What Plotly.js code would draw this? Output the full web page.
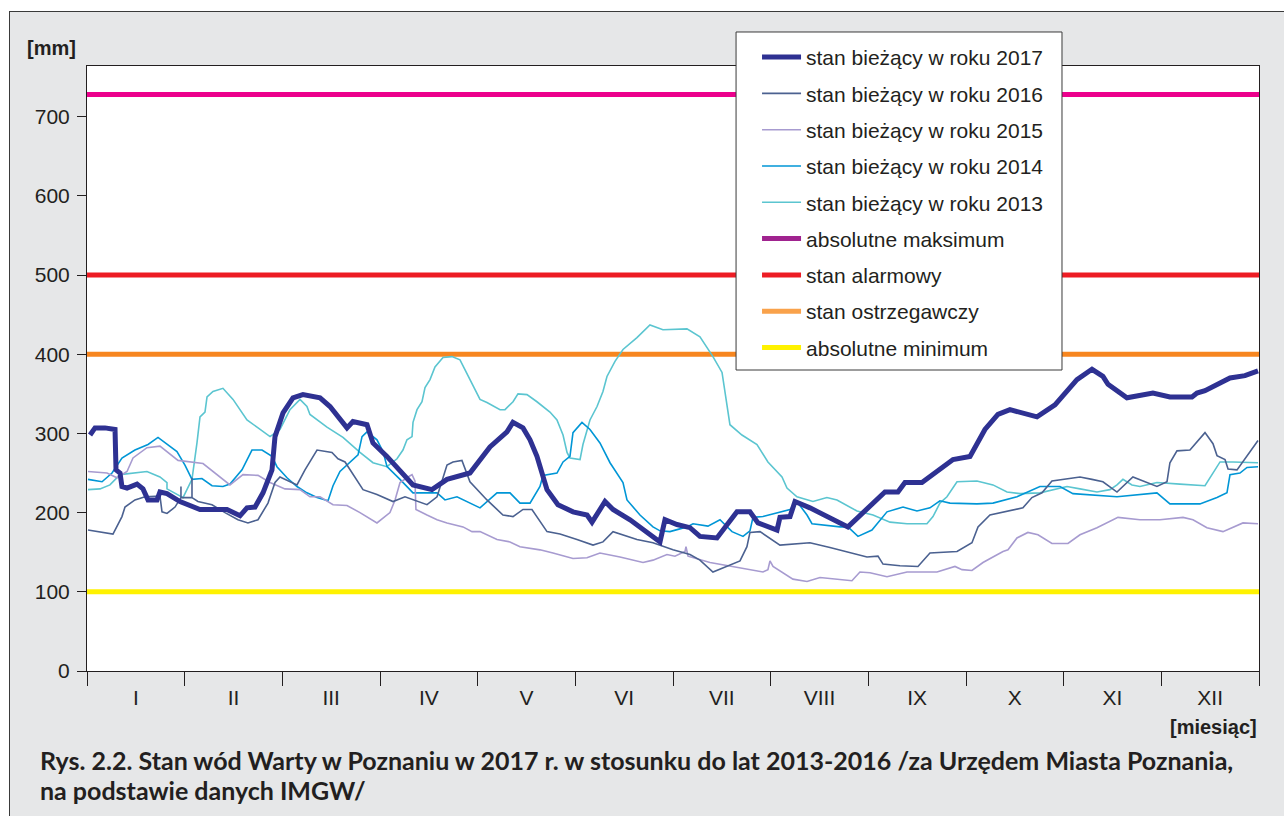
<!DOCTYPE html>
<html>
<head>
<meta charset="utf-8">
<script src="https://cdn.plot.ly/plotly-3.0.1.min.js"></script>
<style>
  html, body { margin: 0; padding: 0; background: #ffffff; }
  #wrap { position: absolute; left: 9px; top: 11px; width: 1275px; height: 805px;
          border-left: 1px solid #3a3a3a; border-top: 1px solid #3a3a3a; background: #e6e7e8; }
  #chart { position: absolute; left: 0; top: 0; width: 1274px; height: 804px; }
</style>
</head>
<body>
<div id="wrap"><div id="chart"></div></div>
<script>
// ---- categories / tick labels ----
const months = ['I','II','III','IV','V','VI','VII','VIII','IX','X','XI','XII'];
const monthEdges = [0,1,2,3,4,5,6,7,8,9,10,11,12];
const monthCenters = [0.5,1.5,2.5,3.5,4.5,5.5,6.5,7.5,8.5,9.5,10.5,11.5];

// ---- reference levels [mm] ----
const levelMax = 728;
const levelAlarm = 500;
const levelWarn = 400;
const levelMin = 100;

// ---- series (x = position in months, y = water level in mm) ----
const x2017 = [0.031,0.082,0.184,0.287,0.297,0.338,0.358,0.410,0.512,0.573,0.625,0.717,0.747,0.819,0.952,1.157,1.433,1.567,1.638,1.720,1.802,1.894,1.925,2.007,2.109,2.211,2.386,2.488,2.662,2.723,2.867,2.928,3.071,3.205,3.338,3.532,3.686,3.921,4.126,4.300,4.361,4.464,4.536,4.607,4.710,4.822,4.976,5.120,5.171,5.304,5.386,5.560,5.734,5.867,5.918,6.041,6.174,6.276,6.450,6.655,6.788,6.870,7.065,7.095,7.198,7.249,7.402,7.791,8.170,8.303,8.375,8.549,8.867,9.041,9.194,9.327,9.450,9.727,9.911,10.136,10.290,10.402,10.454,10.648,10.914,11.088,11.314,11.365,11.447,11.703,11.856,11.990];
const y2017 = [298,307,307,305,254,250,233,231,236,230,216,216,226,224,214,204,204,196,206,207,225,254,296,326,345,349,345,334,307,315,311,288,271,254,235,229,242,250,283,302,314,307,292,271,229,210,201,197,188,214,204,191,175,163,191,185,181,170,168,201,201,187,178,194,195,214,206,182,226,226,238,238,267,271,305,324,330,321,336,368,381,372,362,345,351,346,346,351,354,370,373,379];

const x2016 = [0.010,0.266,0.358,0.389,0.491,0.594,0.747,0.768,0.819,0.901,0.962,0.962,0.962,1.075,1.075,1.075,1.136,1.280,1.413,1.546,1.648,1.751,1.853,1.925,1.976,2.150,2.232,2.355,2.508,2.570,2.642,2.826,2.969,3.133,3.256,3.481,3.584,3.686,3.747,3.839,3.921,4.095,4.259,4.362,4.464,4.556,4.710,4.843,5.017,5.181,5.283,5.386,5.631,5.795,6.000,6.174,6.276,6.409,6.686,6.757,6.788,6.891,7.095,7.402,7.607,7.812,7.986,8.099,8.150,8.324,8.508,8.631,8.908,9.061,9.123,9.245,9.420,9.583,9.675,9.778,9.880,10.167,10.290,10.402,10.546,10.607,10.709,10.955,11.058,11.088,11.160,11.293,11.447,11.529,11.570,11.652,11.683,11.775,11.990];
const y2016 = [178,173,195,207,216,220,221,201,199,207,219,233,219,219,244,219,214,210,200,191,187,191,212,238,245,235,254,279,276,268,264,229,223,214,220,210,220,260,264,266,239,216,197,195,204,204,176,173,166,159,163,176,166,162,153,147,140,125,139,157,175,176,159,162,156,149,144,145,135,133,132,149,151,162,182,197,202,206,219,225,240,245,242,239,226,233,245,233,239,263,278,279,301,287,272,267,255,254,291];

const x2015 = [0.010,0.205,0.307,0.410,0.471,0.614,0.747,0.932,1.188,1.464,1.597,1.751,1.874,2.027,2.181,2.283,2.386,2.519,2.662,2.795,2.969,3.102,3.154,3.205,3.287,3.328,3.358,3.368,3.481,3.584,3.686,3.850,3.942,4.024,4.198,4.331,4.433,4.638,4.771,4.976,5.119,5.252,5.457,5.693,5.795,5.938,6.020,6.123,6.133,6.154,6.379,6.686,6.921,6.972,6.993,7.024,7.228,7.372,7.505,7.832,7.914,8.017,8.191,8.396,8.703,8.887,8.959,9.061,9.174,9.276,9.379,9.430,9.522,9.634,9.737,9.880,10.044,10.167,10.341,10.556,10.781,10.986,11.222,11.324,11.467,11.631,11.836,11.990];
const y2015 = [252,250,244,252,269,282,284,266,262,235,248,247,238,230,229,220,220,210,209,200,187,200,216,238,245,248,240,204,197,191,187,182,176,176,166,163,157,153,149,142,143,149,144,137,140,147,145,151,157,145,137,130,125,128,139,132,116,113,118,114,125,124,119,125,125,132,128,127,137,144,151,153,168,175,172,161,161,172,181,194,191,191,194,191,181,176,187,186];

const x2014 = [0.010,0.154,0.256,0.358,0.491,0.625,0.727,0.819,0.921,1.003,1.075,1.177,1.280,1.392,1.464,1.587,1.648,1.689,1.792,1.894,1.945,2.048,2.150,2.252,2.355,2.468,2.519,2.590,2.775,2.816,2.867,2.969,3.031,3.072,3.205,3.338,3.584,3.665,3.788,4.024,4.198,4.331,4.433,4.536,4.638,4.669,4.812,4.874,4.945,4.976,5.068,5.150,5.252,5.355,5.488,5.529,5.662,5.795,5.867,5.969,6.143,6.205,6.358,6.481,6.604,6.717,6.788,6.819,6.921,7.065,7.198,7.269,7.372,7.423,7.710,7.791,7.894,8.037,8.191,8.355,8.498,8.631,8.733,8.836,9.112,9.276,9.522,9.757,9.962,10.095,10.546,10.955,11.088,11.395,11.570,11.672,11.703,11.805,11.877,11.990];
const y2014 = [242,239,250,269,279,286,295,286,277,260,242,243,234,233,236,254,269,279,279,271,258,244,233,225,219,215,234,252,273,296,302,292,277,258,242,225,225,216,220,206,225,225,212,212,233,247,250,264,271,301,314,305,288,263,238,216,197,182,177,176,182,186,183,191,176,170,177,194,195,200,204,214,197,186,182,182,170,178,201,207,202,206,215,212,211,212,220,233,233,224,220,225,211,211,219,225,248,250,257,258];

const x2013 = [0.010,0.133,0.235,0.338,0.614,0.747,0.819,0.819,0.983,1.075,1.126,1.157,1.208,1.229,1.290,1.392,1.495,1.638,1.741,1.874,1.976,2.078,2.181,2.252,2.283,2.457,2.621,2.795,2.928,3.071,3.174,3.235,3.276,3.328,3.338,3.379,3.430,3.461,3.512,3.563,3.645,3.737,3.819,3.921,4.024,4.095,4.229,4.280,4.362,4.413,4.505,4.607,4.740,4.812,4.874,4.915,4.945,5.048,5.078,5.150,5.222,5.283,5.324,5.406,5.488,5.631,5.764,5.897,6.143,6.276,6.409,6.502,6.583,6.706,6.860,6.972,7.116,7.167,7.269,7.433,7.576,7.679,7.884,8.048,8.222,8.396,8.600,8.662,8.733,8.805,8.908,9.112,9.276,9.420,9.553,9.757,9.911,10.034,10.167,10.341,10.474,10.546,10.607,10.699,10.781,10.955,11.191,11.447,11.601,11.734,11.990];
const y2013 = [229,230,235,248,252,245,238,230,219,242,288,321,327,346,353,357,343,317,308,296,305,330,343,334,324,308,295,276,263,258,268,279,292,296,314,330,340,358,368,384,396,397,393,368,343,339,330,330,340,350,349,340,327,317,298,276,269,267,286,317,334,353,372,391,406,421,437,431,432,422,397,377,311,298,286,264,245,231,220,214,219,216,202,197,188,186,186,195,212,220,239,240,235,226,224,225,229,233,230,226,229,235,242,235,233,238,236,234,264,264,263];

const names = {
  s2017: 'stan bieżący w roku 2017', s2016: 'stan bieżący w roku 2016',
  s2015: 'stan bieżący w roku 2015', s2014: 'stan bieżący w roku 2014',
  s2013: 'stan bieżący w roku 2013', max: 'absolutne maksimum',
  alarm: 'stan alarmowy', warn: 'stan ostrzegawczy', min: 'absolutne minimum'
};

const xSpan = [monthEdges[0], monthEdges[monthEdges.length-1]];
function level(v){ return xSpan.map(() => v); }

const TXT = '#231f20';
const FONT = 'Liberation Sans, Arial, sans-serif';
const traces = [
  // reference lines (drawn underneath the series)
  {x: xSpan, y: level(levelMax), mode:'lines', line:{color:'#ec008c', width:5}, showlegend:false, hoverinfo:'skip'},
  {x: xSpan, y: level(levelAlarm), mode:'lines', name:names.alarm, legendgroup:'g7', legendrank:7, line:{color:'#ed1c24', width:5}},
  {x: xSpan, y: level(levelWarn), mode:'lines', line:{color:'#f7861f', width:5}, showlegend:false, hoverinfo:'skip'},
  {x: xSpan, y: level(levelMin), mode:'lines', name:names.min, legendgroup:'g9', legendrank:9, line:{color:'#fff200', width:5}},
  // legend-only entries (legend swatch colours differ from the plotted lines)
  {x:[null], y:[null], mode:'lines', name:names.max, legendgroup:'g6', legendrank:6, line:{color:'#a0238f', width:5}},
  {x:[null], y:[null], mode:'lines', name:names.warn, legendgroup:'g8', legendrank:8, line:{color:'#f9a24b', width:5}},
  // series
  {x:x2013, y:y2013, mode:'lines', name:names.s2013, legendgroup:'g5', legendrank:5, line:{color:'#5bc5d0', width:1.6}},
  {x:x2014, y:y2014, mode:'lines', name:names.s2014, legendgroup:'g4', legendrank:4, line:{color:'#0096d6', width:1.6}},
  {x:x2015, y:y2015, mode:'lines', name:names.s2015, legendgroup:'g3', legendrank:3, line:{color:'#a79bd0', width:1.6}},
  {x:x2016, y:y2016, mode:'lines', name:names.s2016, legendgroup:'g2', legendrank:2, line:{color:'#4b6190', width:1.6}},
  {x:x2017, y:y2017, mode:'lines', name:names.s2017, legendgroup:'g1', legendrank:1, line:{color:'#2e3192', width:5}}
];

const layout = {
  width: 1274, height: 804,
  margin: {l:77, r:25, t:54, b:145},
  paper_bgcolor: 'rgba(0,0,0,0)',
  plot_bgcolor: '#ffffff',
  font: {family: FONT, size: 21, color: TXT},
  showlegend: true,
  legend: {
    x: 0.5717, y: 1.048, xanchor:'left', yanchor:'top',
    bgcolor:'rgba(0,0,0,0)', borderwidth:0,
    traceorder:'grouped', tracegroupgap: 6, itemwidth: 39,
    font:{family:FONT, size:21, color:TXT}
  },
  xaxis: {
    range: xSpan, showgrid:false, zeroline:false,
    showline:true, linecolor:'#231f20', linewidth:1, mirror:true,
    tickmode:'array', tickvals: monthCenters, ticktext: months,
    ticks:'outside', ticklen:0, tickcolor:'rgba(0,0,0,0)',
    ticklabelstandoff: 8,
    tickfont:{family:FONT, size:21, color:TXT},
    minor: {tickmode:'array', tickvals: monthEdges, ticks:'outside', ticklen:14, tickwidth:1, tickcolor:'#231f20', showgrid:false}
  },
  yaxis: {
    range:[0, 764], showgrid:false, zeroline:false,
    showline:true, linecolor:'#231f20', linewidth:1, mirror:true,
    tickmode:'linear', tick0:0, dtick:100,
    ticks:'outside', ticklen:9, tickwidth:1, tickcolor:'#231f20',
    ticklabelstandoff: 3,
    tickfont:{family:FONT, size:21, color:TXT}
  },
  shapes: [
    {type:'rect', xref:'paper', yref:'paper', x0:0.5538, x1:0.8319, y0:0.4975, y1:1.0562,
     fillcolor:'#ffffff', line:{color:'#3a3a3a', width:1}, layer:'above'}
  ],
  annotations: [
    {text:'<b>[mm]</b>', xref:'paper', yref:'paper', x:-0.0530, y:1.0298, xanchor:'left', yanchor:'middle', showarrow:false, font:{family:FONT, size:20, color:TXT}},
    {text:'<b>[miesiąc]</b>', xref:'paper', yref:'paper', x:1, y:-0.0926, xanchor:'right', yanchor:'middle', showarrow:false, font:{family:FONT, size:20, color:TXT}},
    {text:'<b>Rys. 2.2. Stan wód Warty w Poznaniu w 2017 r. w stosunku do lat 2013-2016 /za Urzędem Miasta Poznania,</b>', xref:'paper', yref:'paper', x:-0.0418, y:-0.1471, xanchor:'left', yanchor:'middle', showarrow:false, font:{family:'Lato, sans-serif', size:25, color:TXT}},
    {text:'<b>na podstawie danych IMGW/</b>', xref:'paper', yref:'paper', x:-0.0418, y:-0.1967, xanchor:'left', yanchor:'middle', showarrow:false, font:{family:'Lato, sans-serif', size:25, color:TXT}}
  ]
};

Plotly.newPlot('chart', traces, layout, {displayModeBar:false, staticPlot:true});
</script>
</body>
</html>
